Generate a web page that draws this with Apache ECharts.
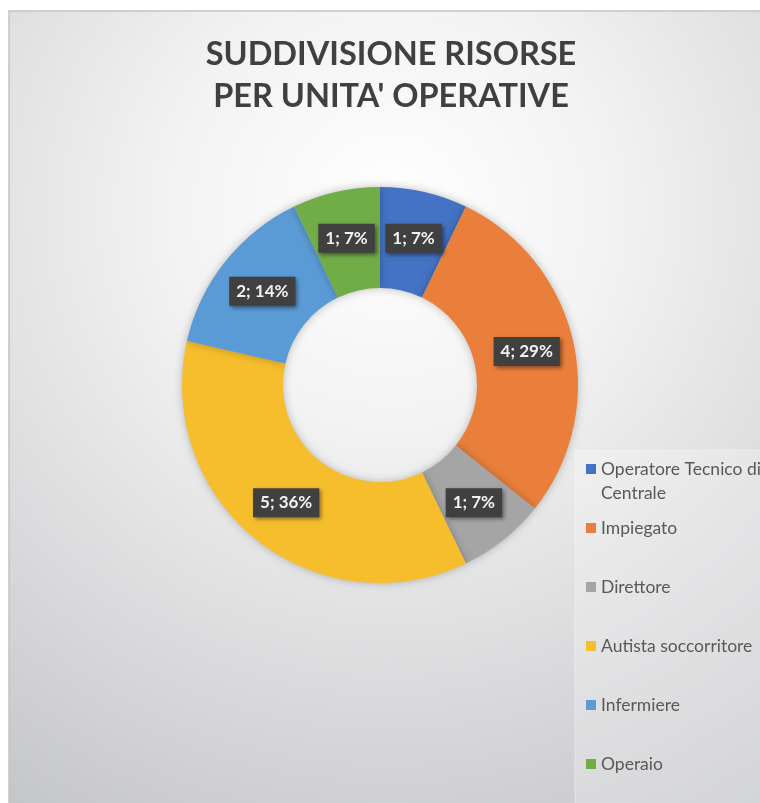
<!DOCTYPE html>
<html>
<head>
<meta charset="utf-8">
<script src="https://cdn.jsdelivr.net/npm/echarts@6/dist/echarts.min.js"></script>
<style>
  html, body { margin: 0; padding: 0; background: #ffffff; }
  #chart { width: 760px; height: 803px; }
</style>
</head>
<body>
<div id="chart"></div>
<script>
// categorie e valori (numero risorse)
const categories = ['Operatore Tecnico di Centrale', 'Impiegato', 'Direttore', 'Autista soccorritore', 'Infermiere', 'Operaio'];
const values = [1, 4, 1, 5, 2, 1];
const colors = ['#4472C4', '#E97F3B', '#A5A5A5', '#F6BE2C', '#5B9BD5', '#70AD47'];

const chart = echarts.init(document.getElementById('chart'), null, { renderer: 'canvas' });

const pieData = categories.map(function (name, i) {
  return { name: name, value: values[i], itemStyle: { color: colors[i] } };
});

const option = {
  backgroundColor: '#ffffff',
  animation: false,
  graphic: [
    {
      type: 'rect',
      z: -10,
      silent: true,
      shape: { x: 9, y: 11, width: 760, height: 800 },
      style: {
        fill: {
          type: 'radial', x: 0.5, y: 0.25, r: 0.95,
          colorStops: [
            { offset: 0, color: '#ffffff' },
            { offset: 0.3, color: '#f3f3f3' },
            { offset: 1, color: '#c3c4c7' }
          ]
        },
        stroke: '#c4c4c4',
        lineWidth: 1.5
      }
    },
    {
      type: 'rect',
      z: -9,
      silent: true,
      shape: { x: 575, y: 450, width: 200, height: 370 },
      style: { fill: 'rgba(255,255,255,0.25)', stroke: 'rgba(255,255,255,0.35)', lineWidth: 1 }
    }
  ],
  title: {
    text: 'SUDDIVISIONE RISORSE\nPER UNITA\' OPERATIVE',
    left: 391,
    textAlign: 'center',
    top: 34,
    padding: 0,
    textStyle: {
      fontFamily: 'Lato',
      fontWeight: 'bold',
      fontSize: 32.5,
      lineHeight: 42,
      color: '#404040'
    }
  },
  legend: {
    orient: 'vertical',
    left: 586,
    top: 433,
    padding: 0,
    itemGap: -13,
    itemWidth: 10,
    itemHeight: 10,
    icon: 'rect',
    data: categories,
    // tre righe per voce: l'icona resta allineata alla riga centrale
    formatter: function (name) {
      if (name === 'Operatore Tecnico di Centrale') {
        return '\u00a0\nOperatore Tecnico di\nCentrale';
      }
      return '\u00a0\n' + name + '\n\u00a0';
    },
    textStyle: {
      fontFamily: 'Lato',
      fontSize: 17.5,
      lineHeight: 24,
      color: '#595959'
    }
  },
  series: [{
    type: 'pie',
    center: [380, 385],
    radius: [97, 198],
    startAngle: 90,
    clockwise: true,
    percentPrecision: 0,
    data: pieData,
    itemStyle: {
      shadowBlur: 8,
      shadowColor: 'rgba(0,0,0,0.25)'
    },
    label: {
      show: true,
      position: 'inside',
      formatter: '{c}; {d}%',
      fontFamily: 'Lato',
      fontWeight: 'bold',
      fontSize: 17,
      color: '#f2f2f2',
      backgroundColor: '#404040',
      padding: [6, 7],
      shadowBlur: 4,
      shadowOffsetX: 2,
      shadowOffsetY: 2,
      shadowColor: 'rgba(0,0,0,0.45)'
    },
    labelLine: { show: false },
    emphasis: { disabled: true }
  }]
};

chart.setOption(option);
</script>
</body>
</html>
